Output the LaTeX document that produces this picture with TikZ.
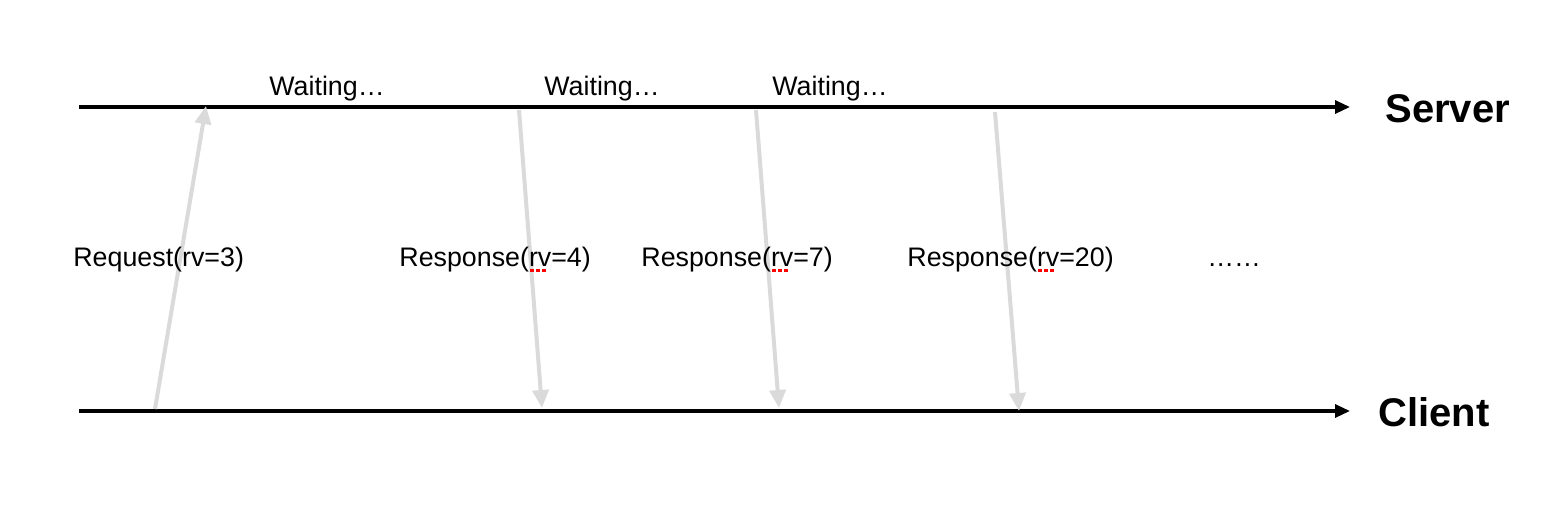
\documentclass[tikz,border=0pt]{standalone}
\usepackage{fontspec}
\setmainfont{Liberation Sans}
\usetikzlibrary{arrows.meta}
\definecolor{msg}{HTML}{DADADA}
\newlength\spw
\newcommand\spellmark[1]{\settowidth\spw{#1}\rlap{\textcolor{red}{\raisebox{-3.2pt}{\leaders\hbox to 3pt{\hss\vrule height 1.5pt width 2pt\hss}\hskip\spw}}}#1}
\tikzset{
  timeline/.style={line width=1.6pt, -{Triangle[length=7.5pt,width=6.5pt]}},
  message/.style={draw=msg, line width=2pt, -{Triangle[length=9pt,width=8pt]}},
  lbl/.style={anchor=base west, inner sep=0pt, font=\fontsize{13.4pt}{16pt}\selectfont},
  side/.style={anchor=base west, inner sep=0pt, font=\fontsize{20pt}{24pt}\selectfont\bfseries},
}
\begin{document}
\begin{tikzpicture}[x=0.5pt,y=-0.5pt]
\useasboundingbox (0,0) rectangle (1558,510);
% timelines
\coordinate (sL) at (79,107);
\coordinate (sR) at (1350,107);
\coordinate (cL) at (79,411);
\coordinate (cR) at (1350,411);
\draw[timeline] (sL) -- (sR);
\draw[timeline] (cL) -- (cR);
\node[side] (server) at (1385,122) {Server};
\node[side] (client) at (1378,426) {Client};
% message endpoints
\coordinate (q0) at (155,409);
\coordinate (q1) at (206,106);
\coordinate (a0) at (519,110);
\coordinate (a1) at (542,408);
\coordinate (b0) at (756,110);
\coordinate (b1) at (779,408);
\coordinate (c0) at (995,112);
\coordinate (c1) at (1019,411);
\draw[message] (q0) -- (q1);
\draw[message] (a0) -- (a1);
\draw[message] (b0) -- (b1);
\draw[message] (c0) -- (c1);
% labels
\node[lbl] (w1) at (269,95) {Waiting…};
\node[lbl] (w2) at (544,95) {Waiting…};
\node[lbl] (w3) at (772,95) {Waiting…};
\node[lbl] (req) at (73,266) {Request(rv=3)};
\node[lbl] (r4) at (399,266) {Response(\spellmark{rv}=4)};
\node[lbl] (r7) at (641,266) {Response(\spellmark{rv}=7)};
\node[lbl] (r20) at (907,266) {Response(\spellmark{rv}=20)};
\node[lbl] (more) at (1207,266) {……};
\end{tikzpicture}
\end{document}
